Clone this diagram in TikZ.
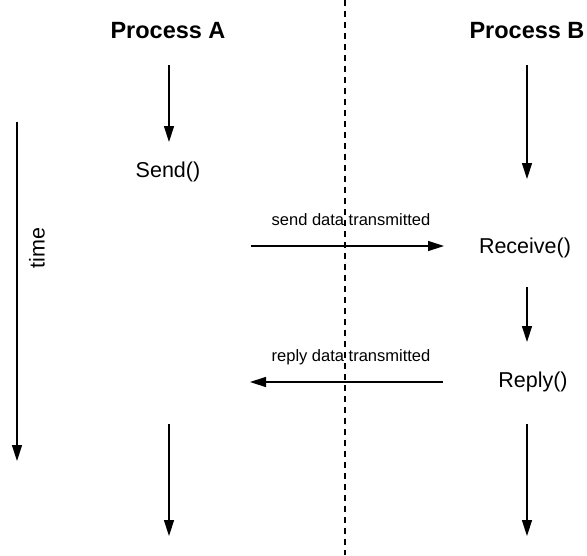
\documentclass[tikz,border=0pt]{standalone}
\usepackage{fontspec}
\setmainfont{Liberation Sans}
\usetikzlibrary{arrows.meta}
\begin{document}
\begin{tikzpicture}[x=1pt,y=-1pt,
  flow/.style={line width=1.4pt,-{Triangle[length=16pt,width=10pt]}},
  head/.style={font=\fontsize{23.5}{27}\selectfont\bfseries},
  call/.style={font=\fontsize{21.5}{25}\selectfont},
  msg/.style={font=\fontsize{16.5}{19}\selectfont}]
  \useasboundingbox (0,0) rectangle (587,555);

  % column headings
  \node[head] (pa) at (168,31) {Process A};
  \node[head] (pb) at (527,31) {Process B};

  % separator between the two processes
  \coordinate (sepT) at (345,0);
  \coordinate (sepB) at (345,555);
  \draw[line width=1.4pt, dash pattern=on 6pt off 5pt] (sepT) -- (sepB);

  % time axis
  \coordinate (t0) at (17,122);
  \coordinate (t1) at (17,461);
  \draw[flow] (t0) -- (t1);
  \node[call, rotate=90] (time) at (37,248) {time};

  % process A timeline
  \coordinate (a0) at (169,65);
  \coordinate (a1) at (169,142);
  \draw[flow] (a0) -- (a1);
  \node[call] (send) at (168,172) {Send()};
  \coordinate (a2) at (169,424);
  \coordinate (a3) at (169,536);
  \draw[flow] (a2) -- (a3);

  % process B timeline
  \coordinate (b0) at (527,65);
  \coordinate (b1) at (527,179);
  \draw[flow] (b0) -- (b1);
  \node[call] (recv) at (525,248) {Receive()};
  \coordinate (b2) at (527,287);
  \coordinate (b3) at (527,342);
  \draw[flow] (b2) -- (b3);
  \node[call] (reply) at (533,382) {Reply()};
  \coordinate (b4) at (527,424);
  \coordinate (b5) at (527,536);
  \draw[flow] (b4) -- (b5);

  % messages
  \coordinate (s0) at (251,246);
  \coordinate (s1) at (444,246);
  \draw[flow] (s0) -- (s1);
  \node[msg] (sendlbl) at (351,220) {send data transmitted};

  \coordinate (r0) at (443,382);
  \coordinate (r1) at (250,382);
  \draw[flow] (r0) -- (r1);
  \node[msg] (replylbl) at (351,357) {reply data transmitted};
\end{tikzpicture}
\end{document}
